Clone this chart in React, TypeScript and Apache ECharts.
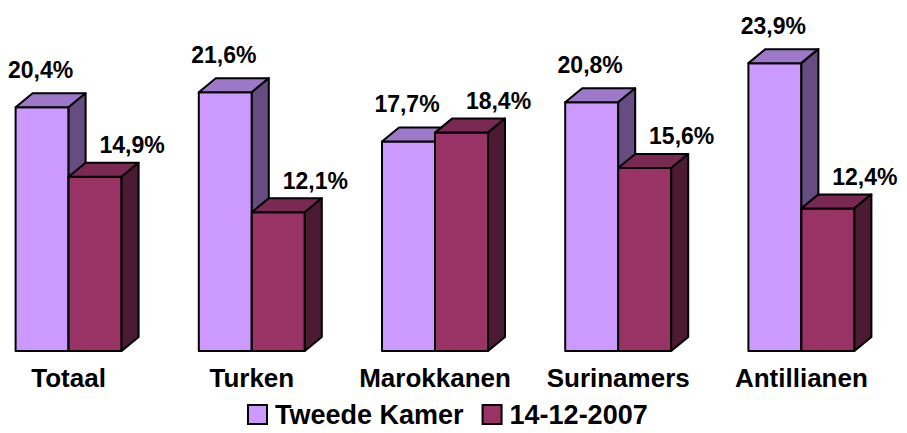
import React, { useEffect, useRef } from "react";
import * as echarts from "echarts";

const categories = ["Totaal", "Turken", "Marokkanen", "Surinamers", "Antillianen"];
const tweedeKamer = [20.4, 21.6, 17.7, 20.8, 23.9];
const datum = [14.9, 12.1, 18.4, 15.6, 12.4];
const seriesNames = ["Tweede Kamer", "14-12-2007"];

const FONT = "'Liberation Sans', Arial, Helvetica, sans-serif";
const DX = 17;
const DY = 14;
const BAR_W = 53;
const SHIFT = 23;

const palettes = [
  { front: "#CC99FF", top: "#9E78C8", side: "#664C80", labelDx: -1.5, labelGap: 12 },
  { front: "#993366", top: "#7A2952", side: "#4D1A33", labelDx: 37, labelGap: 6 },
];

const fmt = (v: number) => v.toFixed(1).replace(".", ",") + "%";

function makeRender(sIdx: number) {
  const p = palettes[sIdx];
  return (params: any, api: any) => {
    const i = api.value(0);
    const v = api.value(1);
    const base = api.coord([i, 0]);
    const topPt = api.coord([i, v]);
    const cx = base[0];
    const y0 = base[1];
    const yb = topPt[1];
    const yf = yb + DY;
    const x0 = sIdx === 0 ? cx - BAR_W : cx;
    const x1 = x0 + BAR_W;
    const stroke = { stroke: "#000", lineWidth: 2, lineJoin: "round" };
    return {
      type: "group",
      children: [
        {
          type: "polygon",
          shape: { points: [[x0, yf], [x1, yf], [x1, y0], [x0, y0]] },
          style: { fill: p.front, ...stroke },
        },
        {
          type: "polygon",
          shape: { points: [[x0, yf], [x0 + DX, yb], [x1 + DX, yb], [x1, yf]] },
          style: { fill: p.top, ...stroke },
        },
        {
          type: "polygon",
          shape: { points: [[x1, yf], [x1 + DX, yb], [x1 + DX, y0 - DY], [x1, y0]] },
          style: { fill: p.side, ...stroke },
        },
        {
          type: "text",
          style: {
            text: fmt(v),
            x: (x0 + x1) / 2 + p.labelDx,
            y: yb - p.labelGap,
            align: "center",
            verticalAlign: "bottom",
            fill: "#000",
            font: `bold 23px ${FONT}`,
          },
        },
      ],
    };
  };
}

export default function App() {
  const ref = useRef<HTMLDivElement>(null);
  useEffect(() => {
    if (!ref.current) return;
    const chart = echarts.init(ref.current, null, { renderer: "svg" });
    chart.setOption({
      animation: false,
      grid: { left: 0, right: 14, top: 35.25, bottom: 82, containLabel: false },
      xAxis: {
        type: "category",
        data: categories,
        boundaryGap: true,
        axisLine: { show: false },
        axisTick: { show: false },
        splitLine: { show: false },
        axisLabel: {
          margin: 14,
          color: "#000",
          fontWeight: "bold",
          fontSize: 26,
          fontFamily: FONT,
          interval: 0,
        },
      },
      yAxis: { type: "value", min: 0, max: 25, show: false },
      legend: {
        data: seriesNames.map((n) => ({ name: n, icon: "rect" })),
        left: 247 - 5 + SHIFT,
        top: 396,
        itemWidth: 19,
        itemHeight: 19,
        itemGap: 18,
        itemStyle: { borderColor: "#000", borderWidth: 2 },
        textStyle: {
          color: "#000",
          fontWeight: "bold",
          fontSize: 27,
          fontFamily: FONT,
          padding: [0, 0, 0, 3],
        },
        selectedMode: false,
      },
      series: [tweedeKamer, datum].map((arr, s) => ({
        type: "custom",
        name: seriesNames[s],
        z: 2 + s,
        clip: false,
        itemStyle: { color: palettes[s].front },
        encode: { x: 0, y: 1 },
        data: arr.map((v, i) => [i, v]),
        renderItem: makeRender(s),
      })),
    });
    return () => chart.dispose();
  }, []);
  return (
    <div style={{ position: "absolute", left: 0, top: 0, width: 907, height: 433, overflow: "hidden", background: "#fff" }}>
      <div
        ref={ref}
        style={{ position: "absolute", left: -SHIFT, top: 0, width: 907 + SHIFT, height: 433 }}
      />
    </div>
  );
}
